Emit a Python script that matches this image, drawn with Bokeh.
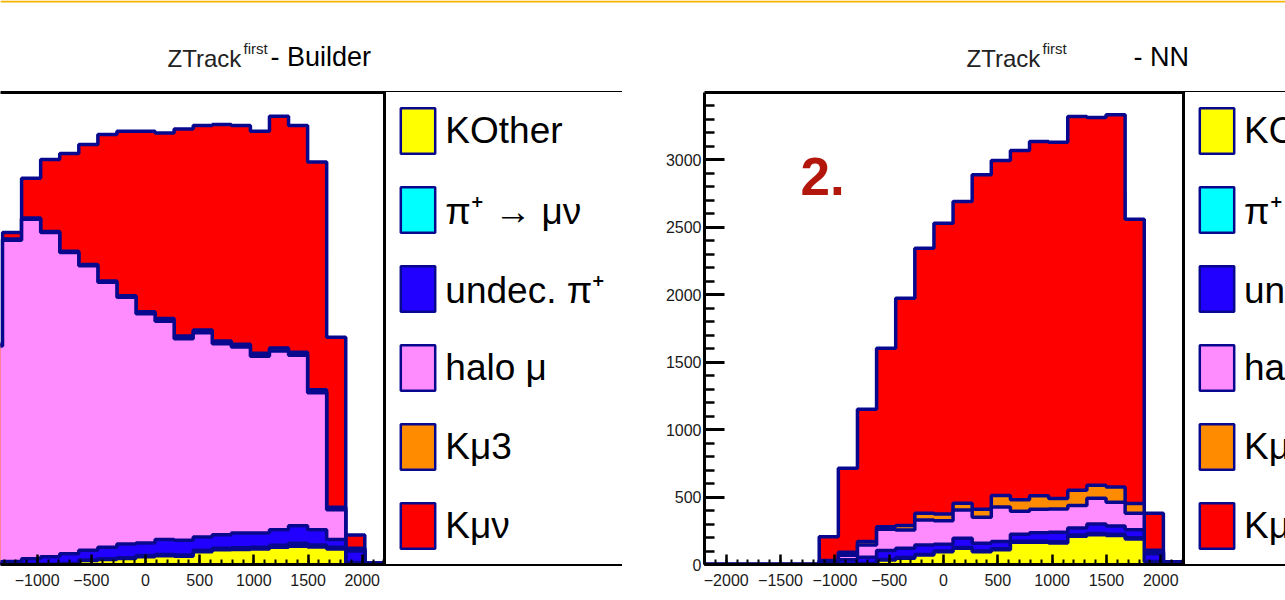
import numpy as np
from bokeh.plotting import figure
from bokeh.layouts import row, column
from bokeh.models import Range1d, FixedTicker, LinearAxis, Legend, LegendItem, Label, Span
from bokeh.core.properties import value
from bokeh.embed import file_html
from bokeh.resources import INLINE

# ---------------- data ----------------
# 25 bins of ZTrack^first from -2200 to 2200 (width 176)
bin_edges = (-2200 + 176 * np.arange(26)).tolist()

labels = ["KOther", "π⁺ → μν", "undec. π⁺", "halo μ", "Kμ3", "Kμν"]
colors = ["#ffff00", "#00ffff", "#2200ff", "#ff8cff", "#ff8c00", "#ff0000"]

# Builder panel: visible bins 4..24
builder_first_bin = 4
b_kother = [0, 0, 0, 0, 5, 30, 37, 44, 58, 65, 62, 95, 110, 112, 115, 128, 135, 130, 115, 12, 0]
b_pimunu = [0, 0, 1, 2, 3, 4, 5, 6, 8, 10, 9, 10, 11, 12, 13, 15, 22, 15, 12, 3, 0]
b_undec = [20, 22, 41, 55, 71, 72, 86, 102, 94, 110, 109, 99, 100, 110, 106, 115, 131, 113, 58, 85, 10]
b_halo = [1600, 2383, 2519, 2405, 2235, 2110, 1965, 1830, 1699, 1619, 1494, 1514, 1416, 1378, 1310,
          1325, 1263, 1015, 221, 15, 0]
b_kmu3 = [5, 8, 8, 8, 8, 8, 10, 10, 15, 20, 20, 20, 20, 22, 22, 22, 22, 22, 18, 5, 0]
b_kmunu = [12, 49, 295, 533, 726, 890, 1085, 1221, 1339, 1376, 1536, 1517, 1605, 1621, 1647, 1718,
           1682, 1689, 1262, 98, 2]

# NN panel: all 25 bins
nn_kother = [0, 0, 0, 0, 0, 0, 0, 0, 5, 33, 46, 70, 95, 120, 95, 110, 165, 165, 160, 210, 220, 215, 190, 20, 5]
nn_pimunu = [0, 0, 0, 0, 0, 0, 0, 2, 3, 4, 5, 5, 6, 6, 6, 7, 7, 8, 8, 8, 9, 9, 8, 3, 0]
nn_undec = [0, 0, 0, 0, 0, 0, 15, 33, 45, 66, 69, 70, 49, 68, 56, 53, 53, 62, 72, 52, 71, 61, 60, 57, 10]
nn_halo = [0, 0, 0, 0, 0, 0, 10, 33, 92, 158, 136, 185, 175, 210, 193, 257, 170, 175, 172, 167, 192,
           176, 122, 15, 0]
nn_kmu3 = [0, 0, 0, 0, 0, 0, 5, 22, 25, 19, 34, 50, 50, 51, 60, 84, 86, 100, 77, 113, 95, 114, 72, 10, 3]
nn_kmunu = [0, 0, 0, 0, 0, 0, 176, 623, 981, 1324, 1685, 1965, 2156, 2237, 2480, 2485, 2589, 2627,
            2643, 2772, 2727, 2760, 2109, 275, 2]

x_ticks = [-2000, -1500, -1000, -500, 0, 500, 1000, 1500, 2000]
y_ticks = [0, 500, 1000, 1500, 2000, 2500, 3000]

# ---------------- style ----------------
SANS = "Liberation Sans"
OUTLINE = "#08088f"
OUT_W = 3.5
Y_END = 3500
FRAME_H = 472
HEADER_H = 84
TOP_GAP = 8
BOTTOM_B = 600 - HEADER_H - TOP_GAP - FRAME_H


def stack(p, edges, series):
    e = np.array(edges, float)
    s = np.array(series, float)
    cum = np.cumsum(s, axis=0)
    # legend proxies (hidden underneath the stack)
    proxies = []
    for k in range(len(series)):
        r = p.quad(left=e[:-1], right=e[1:], bottom=0, top=s[k], fill_color=colors[k],
                   line_color=OUTLINE, line_width=2.5, level="underlay")
        proxies.append(r)
    # ROOT THStack: draw from the full sum down to the first histogram
    for k in range(len(series) - 1, -1, -1):
        top = cum[k]
        p.varea_step(x=e, y1=np.zeros(len(e)), y2=np.append(top, top[-1]),
                     step_mode="after", fill_color=colors[k])
        p.step(x=np.concatenate([[e[0]], e]), y=np.concatenate([[0.0], top, [0.0]]),
               mode="after", line_color=OUTLINE, line_width=OUT_W)
    return proxies


def style_axes(p, with_y):
    p.outline_line_color = None
    p.xgrid.visible = False
    p.ygrid.visible = False
    p.background_fill_color = "white"
    p.border_fill_color = "white"
    xa = p.xaxis[0]
    xa.ticker = FixedTicker(ticks=x_ticks, minor_ticks=list(range(-2200, 2201, 100)))
    xa.major_tick_in = 10
    xa.major_tick_out = 0
    xa.minor_tick_in = 5
    xa.minor_tick_out = 0
    xa.major_tick_line_width = 2.5
    xa.minor_tick_line_width = 2
    xa.axis_line_width = 3
    xa.axis_line_color = "black"
    xa.major_label_text_font = SANS
    xa.major_label_text_font_size = "16px"
    xa.major_label_text_color = "#1a1a1a"
    xa.major_label_standoff = 9
    if with_y:
        ya = p.yaxis[0]
        ya.ticker = FixedTicker(ticks=y_ticks, minor_ticks=list(range(0, 3500, 100)))
        ya.major_tick_in = 20
        ya.major_tick_out = 0
        ya.minor_tick_in = 10
        ya.minor_tick_out = 0
        ya.major_tick_line_width = 3
        ya.minor_tick_line_width = 2.5
        ya.axis_line_width = 3
        ya.axis_line_color = "black"
        ya.major_label_text_font = SANS
        ya.major_label_text_font_size = "16px"
        ya.major_label_text_color = "#1a1a1a"
        ya.major_label_standoff = 3
    top_axis = LinearAxis(ticker=FixedTicker(ticks=[]), axis_line_width=3, axis_line_color="black",
                          major_tick_in=0, major_tick_out=0, minor_tick_in=0, minor_tick_out=0,
                          major_label_text_font_size="0px")
    p.add_layout(top_axis, "above")


def add_legend(p, proxies, lx):
    items = [LegendItem(label=labels[k], renderers=[proxies[k]]) for k in range(len(labels))]
    leg = Legend(items=items, location=(lx, -3), orientation="vertical", padding=10, spacing=22,
                 margin=0, glyph_width=43, glyph_height=57, label_standoff=6, label_width=168,
                 label_height=57, label_text_font=SANS, label_text_font_size="37px",
                 label_text_color="black", border_line_color="black", border_line_width=3,
                 border_line_alpha=1.0, background_fill_color="white", background_fill_alpha=1.0)
    p.add_layout(leg, "center")


# ---------------- header (titles) ----------------
hdr = figure(frame_width=1285, frame_height=HEADER_H, min_border=0, output_backend="svg",
             toolbar_location=None, x_range=Range1d(0, 1285), y_range=Range1d(HEADER_H, 0),
             x_axis_location=None, y_axis_location=None)
hdr.outline_line_color = None
hdr.xgrid.visible = False
hdr.ygrid.visible = False
hdr.add_layout(Span(location=1, dimension="width", line_color="#f5b300", line_width=2))
for tx, fx, sx, rest in [(167, 243, 270, "- Builder"), (966, 1042, 1133, "- NN")]:
    hdr.text(x=[tx], y=[57.5], text=["ZTrack"], text_font=value(SANS), text_font_size="24px",
             text_color="#222222", text_baseline="alphabetic")
    hdr.text(x=[fx], y=[48], text=["first"], text_font=value(SANS), text_font_size="15px",
             text_color="#222222", text_baseline="alphabetic")
    hdr.text(x=[sx], y=[56.5], text=[rest], text_font=value(SANS), text_font_size="27px",
             text_color="black", text_baseline="alphabetic")

# ---------------- left panel (Builder) ----------------
L_SCALE = 325 / 3000.0          # px per unit
L_START = -1000 - 36.7 / L_SCALE
L_FRAME_W = 622
pl = figure(frame_width=L_FRAME_W, frame_height=FRAME_H, min_border_left=0, min_border_right=0,
            min_border_top=TOP_GAP, min_border_bottom=BOTTOM_B, output_backend="svg",
            toolbar_location=None,
            x_range=Range1d(L_START, L_START + L_FRAME_W / L_SCALE), y_range=Range1d(0, Y_END),
            y_axis_location=None)
b_series = [b_kother, b_pimunu, b_undec, b_halo, b_kmu3, b_kmunu]
prox_l = stack(pl, bin_edges[builder_first_bin:], b_series)
style_axes(pl, with_y=False)
add_legend(pl, prox_l, (2200 - L_START) * L_SCALE)

# ---------------- right panel (NN) ----------------
R_SCALE = 478 / 4400.0
R_FRAME_W = 581
pr = figure(frame_width=R_FRAME_W, frame_height=FRAME_H, min_border_left=82, min_border_right=0,
            min_border_top=TOP_GAP, min_border_bottom=BOTTOM_B, output_backend="svg",
            toolbar_location=None,
            x_range=Range1d(-2200, -2200 + R_FRAME_W / R_SCALE), y_range=Range1d(0, Y_END))
nn_series = [nn_kother, nn_pimunu, nn_undec, nn_halo, nn_kmu3, nn_kmunu]
prox_r = stack(pr, bin_edges, nn_series)
style_axes(pr, with_y=True)
add_legend(pr, prox_r, 478)

pr.add_layout(Label(x=-1316, y=2877, text="2.", text_font=SANS, text_font_size="53px",
                    text_font_style="bold", text_color="#b3170b", text_baseline="alphabetic"))

layout = column(hdr, row(pl, pr, spacing=0), spacing=0)
open("out.html", "w").write(file_html(layout, INLINE))
